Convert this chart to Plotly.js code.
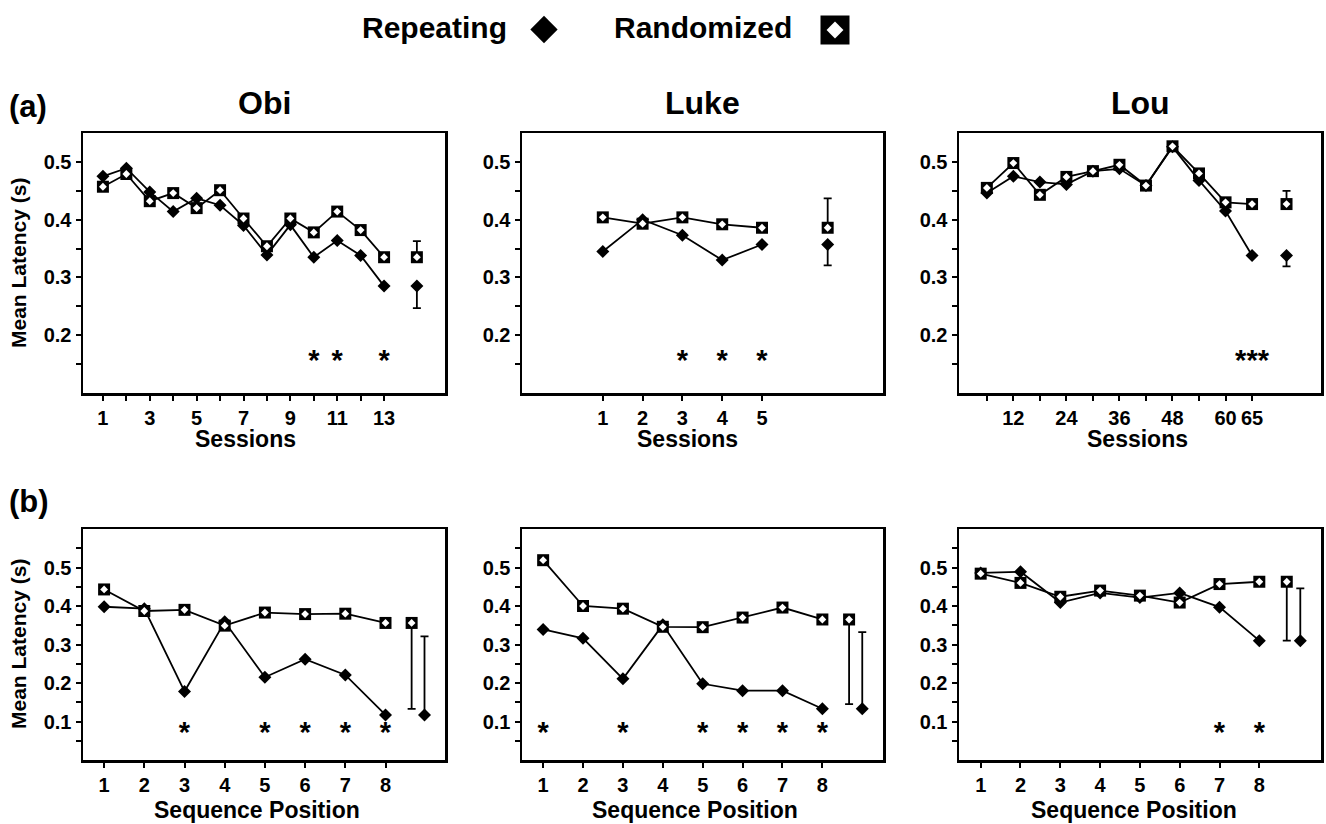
<!DOCTYPE html>
<html><head><meta charset="utf-8">
<script src="https://cdn.plot.ly/plotly-3.0.1.min.js"></script>
<style>html,body{margin:0;padding:0;background:#fff}#chart{width:1326px;height:824px}</style>
</head><body><div id="chart"></div>
<script>
// ---------------- DATA ----------------
// (a) Sessions
const obiSessionsA = [1,2,3,4,5,6,7,8,9,10,11,12,13];
const obiSessionLabelsA = ['1','','3','','5','','7','','9','','11','','13'];
const obiRepA  = [0.475,0.489,0.448,0.414,0.437,0.425,0.390,0.339,0.391,0.335,0.364,0.338,0.285];
const obiRandA = [0.457,0.479,0.432,0.446,0.420,0.451,0.402,0.354,0.402,0.378,0.414,0.382,0.335];

const lukeSessionsA = [1,2,3,4,5];
const lukeSessionLabelsA = ['1','2','3','4','5'];
const lukeRepA  = [0.345,0.400,0.373,0.330,0.357];
const lukeRandA = [0.404,0.393,0.404,0.392,0.386];

const louSessionsA = [1,2,3,4,5,6,7,8,9,10,11];
const louSessionLabelsA = ['','12','','24','','36','','48','','60','65'];
const louRepA  = [0.446,0.475,0.465,0.461,0.484,0.488,0.459,0.526,0.468,0.415,0.338];
const louRandA = [0.455,0.498,0.443,0.474,0.484,0.495,0.459,0.527,0.480,0.430,0.427];

// (b) Sequence position
const positionsB = [1,2,3,4,5,6,7,8];
const positionLabelsB = ['1','2','3','4','5','6','7','8'];
const obiRepB   = [0.398,0.393,0.178,0.359,0.215,0.262,0.221,0.117];
const obiRandB  = [0.443,0.387,0.390,0.349,0.383,0.379,0.380,0.356];
const lukeRepB  = [0.339,0.316,0.211,0.351,0.198,0.180,0.180,0.133];
const lukeRandB = [0.519,0.400,0.393,0.346,0.345,0.370,0.396,0.365];
const louRepB   = [0.486,0.489,0.409,0.434,0.422,0.434,0.397,0.310];
const louRandB  = [0.484,0.460,0.424,0.440,0.427,0.409,0.457,0.463];

// Summary means and error bars (Obi, Luke, Lou)
const repMeanA  = [0.285,0.357,0.338];
const repErrA   = [0.038,0.036,0.019];
const randMeanA = [0.335,0.386,0.427];
const randErrA  = [0.028,0.051,0.023];
const repMeanB  = [0.117,0.133,0.310];
const repErrB   = [0.204,0.199,0.136];
const randMeanB = [0.356,0.365,0.463];
const randErrB  = [0.223,0.220,0.153];

// Significance markers
const sigObiA  = [10,11,13];
const sigLukeA = [3,4,5];
const sigLouA  = [11];
const sigObiB  = [3,5,6,7,8];
const sigLukeB = [1,3,5,6,7,8];
const sigLouB  = [7,8];

const subjects = ['Obi','Luke','Lou'];
const yTickValsA = [0.15,0.2,0.25,0.3,0.35,0.4,0.45,0.5];
const yTickTextA = ['','0.2','','0.3','','0.4','','0.5'];
const yTickValsB = [0.05,0.1,0.15,0.2,0.25,0.3,0.35,0.4,0.45,0.5,0.55];
const yTickTextB = ['','0.1','','0.2','','0.3','','0.4','','0.5',''];

// ---------------- LAYOUT HELPERS ----------------
const W = 1326, H = 824;
const px = x => x / W;
const py = y => 1 - y / H;
const FONT = 'Liberation Sans, Arial, Helvetica, sans-serif';

const colX = [[83,445],[522,883],[959,1321]];
const rowA = [133,393], rowB = [529,760];

const panels = [
  {row:'A', col:0, x:obiSessionsA,  xl:obiSessionLabelsA,  rep:obiRepA,  rand:obiRandA,  xr:[0.15,15.6],  sumRand:14.4, sumRep:14.4, sig:sigObiA,  sigText:'*'},
  {row:'A', col:1, x:lukeSessionsA, xl:lukeSessionLabelsA, rep:lukeRepA, rand:lukeRandA, xr:[-1.03,8.04], sumRand:6.65, sumRep:6.65, sig:sigLukeA, sigText:'*'},
  {row:'A', col:2, x:louSessionsA,  xl:louSessionLabelsA,  rep:louRepA,  rand:louRandA,  xr:[-0.05,13.6], sumRand:12.3, sumRep:12.3, sig:sigLouA,  sigText:'***'},
  {row:'B', col:0, x:positionsB, xl:positionLabelsB, rep:obiRepB,  rand:obiRandB,  xr:[0.475,9.48], sumRand:8.65, sumRep:8.97, sig:sigObiB,  sigText:'*'},
  {row:'B', col:1, x:positionsB, xl:positionLabelsB, rep:lukeRepB, rand:lukeRandB, xr:[0.47,9.52],  sumRand:8.67, sumRep:9.0,  sig:sigLukeB, sigText:'*'},
  {row:'B', col:2, x:positionsB, xl:positionLabelsB, rep:louRepB,  rand:louRandB,  xr:[0.455,9.55], sumRand:8.69, sumRep:9.03, sig:sigLouB,  sigText:'*'}
];

const traces = [];
const layout = {
  width: W, height: H,
  margin: {l:0, r:0, t:0, b:0},
  paper_bgcolor: '#fff', plot_bgcolor: '#fff',
  showlegend: false, hovermode: false,
  font: {family: FONT, color: '#000', weight: 'bold'},
  annotations: []
};

const LINE = {color:'#000', width:1.8};
const tickFont = {family: FONT, size: 20, color: '#000', weight: 'bold'};

panels.forEach((p, i) => {
  const n = i + 1;
  const xa = 'x' + n, ya = 'y' + n;
  const isA = p.row === 'A';
  const rowPx = isA ? rowA : rowB;
  const yr = isA ? [0.1, 0.55] : [0, 0.6];
  const sigY = isA ? 0.152 : 0.065;

  layout['xaxis' + n] = {
    domain: [px(colX[p.col][0]), px(colX[p.col][1])], anchor: ya,
    range: p.xr, showgrid: false, zeroline: false,
    showline: true, linewidth: 2.5, linecolor: '#000', mirror: true,
    ticks: 'outside', ticklen: 5, tickwidth: 2, tickcolor: '#000',
    tickvals: p.x, ticktext: p.xl, tickfont: tickFont, fixedrange: true
  };
  layout['yaxis' + n] = {
    domain: [py(rowPx[1]), py(rowPx[0])], anchor: xa,
    range: yr, showgrid: false, zeroline: false,
    showline: true, linewidth: 2.5, linecolor: '#000', mirror: true,
    ticks: 'outside', ticklen: 5, tickwidth: 2, tickcolor: '#000',
    tickvals: isA ? yTickValsA : yTickValsB, ticktext: isA ? yTickTextA : yTickTextB,
    tickfont: tickFont, fixedrange: true
  };

  const sIdx = p.col;
  const randMean = isA ? randMeanA[sIdx] : randMeanB[sIdx];
  const randErr  = isA ? randErrA[sIdx]  : randErrB[sIdx];
  const repMean  = isA ? repMeanA[sIdx]  : repMeanB[sIdx];
  const repErr   = isA ? repErrA[sIdx]   : repErrB[sIdx];

  // Randomized series
  traces.push({x:p.x, y:p.rand, xaxis:xa, yaxis:ya, type:'scatter', mode:'lines+markers',
    line:LINE, marker:{symbol:'square', size:12, color:'#000'}});
  // Repeating series
  traces.push({x:p.x, y:p.rep, xaxis:xa, yaxis:ya, type:'scatter', mode:'lines+markers',
    line:LINE, marker:{symbol:'diamond', size:10, color:'#000'}});
  // inner white of randomized markers
  traces.push({x:p.x, y:p.rand, xaxis:xa, yaxis:ya, type:'scatter', mode:'markers',
    marker:{symbol:'diamond', size:6, color:'#fff'}});

  // Summary randomized
  traces.push({x:[p.sumRand], y:[randMean], xaxis:xa, yaxis:ya, type:'scatter', mode:'markers',
    marker:{symbol:'square', size:12, color:'#000'},
    error_y:{type:'data', symmetric:false,
      array:[isA ? randErr : 0], arrayminus:[isA ? 0 : randErr],
      color:'#000', thickness:1.8, width:4}});
  traces.push({x:[p.sumRand], y:[randMean], xaxis:xa, yaxis:ya, type:'scatter', mode:'markers',
    marker:{symbol:'diamond', size:6, color:'#fff'}});
  // Summary repeating
  traces.push({x:[p.sumRep], y:[repMean], xaxis:xa, yaxis:ya, type:'scatter', mode:'markers',
    marker:{symbol:'diamond', size:10, color:'#000'},
    error_y:{type:'data', symmetric:false,
      array:[isA ? 0 : repErr], arrayminus:[isA ? repErr : 0],
      color:'#000', thickness:1.8, width:4}});

  // Significance asterisks
  traces.push({x:p.sig, y:p.sig.map(() => sigY), xaxis:xa, yaxis:ya, type:'scatter', mode:'text',
    text:p.sig.map(() => p.sigText), textposition:'middle center',
    textfont:{family:FONT, size:29, color:'#000', weight:'bold'}, cliponaxis:false});
});

// Legend key markers on a hidden pixel-space axis
layout.xaxis7 = {domain:[0,1], range:[0,W], visible:false, fixedrange:true, anchor:'y7'};
layout.yaxis7 = {domain:[py(60),1], range:[60,0], visible:false, fixedrange:true, anchor:'x7'};
const legendKeyX = [544, 835];
traces.push({x:[legendKeyX[0]], y:[29.5], xaxis:'x7', yaxis:'y7', type:'scatter', mode:'markers',
  marker:{symbol:'diamond', size:21, color:'#000'}});
traces.push({x:[legendKeyX[1]], y:[30], xaxis:'x7', yaxis:'y7', type:'scatter', mode:'markers',
  marker:{symbol:'square', size:29, color:'#000'}});
traces.push({x:[legendKeyX[1]], y:[30], xaxis:'x7', yaxis:'y7', type:'scatter', mode:'markers',
  marker:{symbol:'diamond', size:13, color:'#fff'}});

function ann(text, x, y, size, opts) {
  layout.annotations.push(Object.assign({
    text: text, x: px(x), y: py(y), xref:'paper', yref:'paper',
    xanchor:'center', yanchor:'middle', showarrow:false,
    font:{family:FONT, size:size, color:'#000', weight:'bold'}
  }, opts || {}));
}

// Legend text
ann('Repeating', 360, 28, 30, {xanchor:'left'});
ann('Randomized', 612, 28, 30, {xanchor:'left'});
// Row labels
ann('(a)', 7, 106, 31, {xanchor:'left'});
ann('(b)', 7, 501, 31, {xanchor:'left'});
// Subject titles
const titleX = [264, 702, 1140];
subjects.forEach((s, k) => ann(s, titleX[k], 103, 32));
// Axis titles
ann('Mean Latency (s)', 18, 263, 21, {textangle:-90});
ann('Mean Latency (s)', 18, 644, 21, {textangle:-90});
const sessTitleX = [245, 687, 1137];
sessTitleX.forEach(x => ann('Sessions', x, 439, 23));
const seqTitleX = [257, 695, 1134];
seqTitleX.forEach(x => ann('Sequence Position', x, 810, 23));

Plotly.newPlot('chart', traces, layout, {staticPlot:true, displayModeBar:false});
</script>
</body></html>
